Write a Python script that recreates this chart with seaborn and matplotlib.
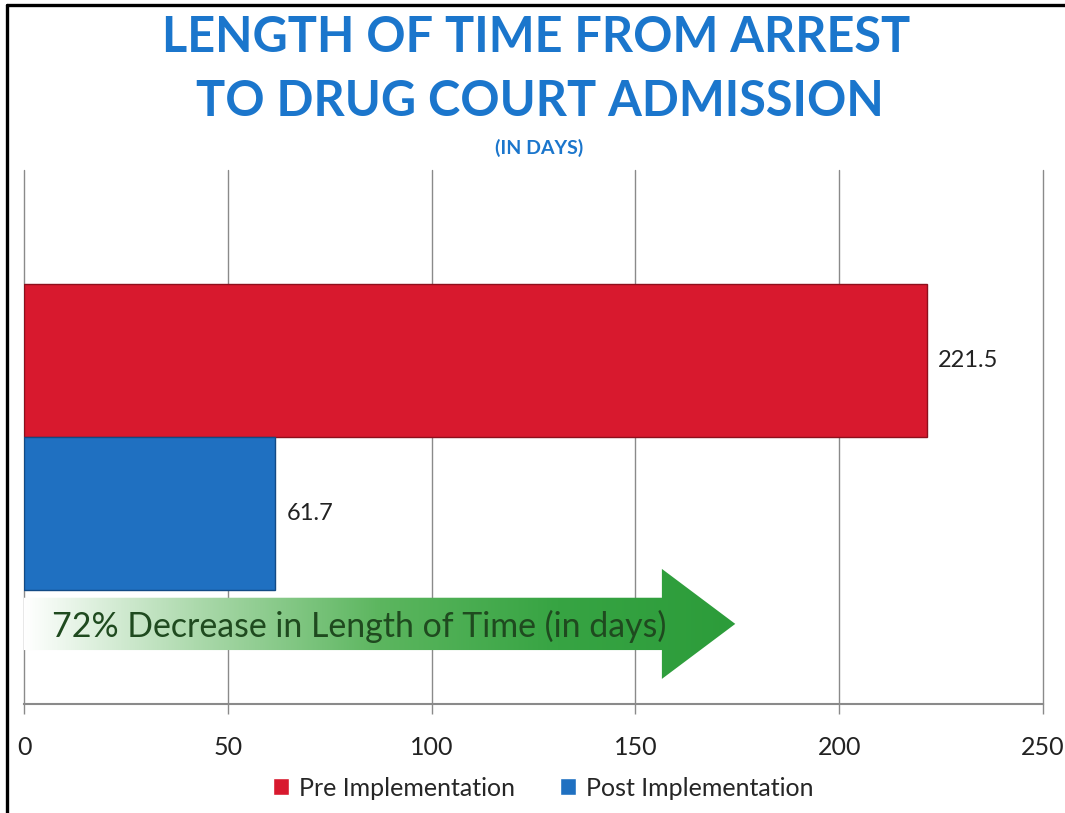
import matplotlib

matplotlib.use("Agg")
import matplotlib.pyplot as plt  # noqa: E402
import numpy as np  # noqa: E402
import pandas as pd  # noqa: E402
import seaborn as sns  # noqa: E402
from matplotlib.colors import LinearSegmentedColormap  # noqa: E402
from matplotlib.lines import Line2D  # noqa: E402
from matplotlib.patches import Polygon  # noqa: E402

# data
GROUPS = ["Arrest to admission", "Arrest to admission"]
PERIODS = ["Pre Implementation", "Post Implementation"]
DAYS = [221.5, 61.7]
XTICKS = [0, 50, 100, 150, 200, 250]
ARROW_TEXT = "72% Decrease in Length of Time (in days)"

RED = "#d8192e"
BLUE = "#1f70c1"
TITLE_BLUE = "#1b76cc"
TEXT_GREEN = "#1f4a1f"
FONT = ["Lato", "DejaVu Sans"]

sns.set_theme(style="white")
plt.rcParams["font.family"] = FONT

df = pd.DataFrame({"group": GROUPS, "period": PERIODS, "days": DAYS})

W, H = 1065, 813
fig = plt.figure(figsize=(W / 100, H / 100), dpi=100)
ax = fig.add_axes([24 / W, 1 - 704 / H, (1043 - 24) / W, (704 - 170) / H])

sns.barplot(data=df, x="days", y="group", hue="period", hue_order=PERIODS,
            palette=[RED, BLUE], orient="h", width=0.573, errorbar=None,
            saturation=1, ax=ax)
for bar, edge in zip(ax.patches, ["#8e0f1c", "#124a85"]):
    bar.set_edgecolor(edge)
    bar.set_linewidth(1.0)
    bar.set_zorder(3)

for cont in ax.containers:
    ax.bar_label(cont, fmt="%.1f", padding=8, fontsize=17, color="#222222")

ax.set_xlim(0, 250)
ax.set_ylim(0.5, -0.5)
ax.set_xticks(XTICKS)
ax.set_yticks([])
ax.set_xlabel("")
ax.set_ylabel("")
ax.grid(axis="x", color="#8a8a8a", linewidth=1.0, zorder=0)
ax.set_axisbelow(True)
for line in ax.get_xgridlines():
    line.set_clip_on(False)
for side in ["top", "right", "left"]:
    ax.spines[side].set_visible(False)
ax.spines["bottom"].set_color("#8a8a8a")
ax.spines["bottom"].set_linewidth(1.5)
ax.tick_params(axis="x", bottom=True, length=7, width=1.0, color="#8a8a8a",
               pad=16, labelsize=18, labelcolor="#222222")

# gradient arrow under the bars
x0, x_head, x_tip = 0, 156.5, 174.5
yc, body, head = 0.35, 0.049, 0.103
arrow_pts = [(x0, yc - body), (x_head, yc - body), (x_head, yc - head),
             (x_tip, yc), (x_head, yc + head), (x_head, yc + body), (x0, yc + body)]
arrow = Polygon(arrow_pts, closed=True, facecolor="none", edgecolor="none")
ax.add_patch(arrow)
green = LinearSegmentedColormap.from_list(
    "fade", ["#ffffff", "#a9d8a9", "#5cb65f", "#37a443", "#2c9c3a"])
grad = ax.imshow(np.linspace(0, 1, 256).reshape(1, -1), cmap=green, aspect="auto",
                 extent=(x0, x_tip, yc + head, yc - head), zorder=2)
grad.set_clip_path(arrow)
ax.set_xlim(0, 250)
ax.set_ylim(0.5, -0.5)
ax.text(6.9, yc + 0.005, ARROW_TEXT, fontsize=24.4, color=TEXT_GREEN,
        va="center", ha="left", zorder=4)

sns.move_legend(ax, "center", bbox_to_anchor=(0.51, 1 - 788 / H),
                bbox_transform=fig.transFigure, ncol=2, frameon=False, title=None,
                fontsize=18, handlelength=0.65, handleheight=0.65,
                handletextpad=0.4, columnspacing=1.8)

# title block
fig.text(0.503, 1 - 37 / H, "LENGTH OF TIME FROM ARREST", ha="center", va="center",
         fontsize=35, fontweight="bold", color=TITLE_BLUE)
fig.text(0.507, 1 - 101 / H, "TO DRUG COURT ADMISSION", ha="center", va="center",
         fontsize=35, fontweight="bold", color=TITLE_BLUE)
fig.text(0.506, 1 - 148 / H, "(IN DAYS)", ha="center", va="center",
         fontsize=14, fontweight="bold", color=TITLE_BLUE)

# page frame on the left and top
fig.add_artist(Line2D([7 / W, 7 / W], [0, 1 - 5 / H], color="black", linewidth=2.4))
fig.add_artist(Line2D([7 / W, 1], [1 - 5 / H, 1 - 5 / H], color="black", linewidth=2.4))

fig.savefig("out.png", dpi=100, facecolor="white")
